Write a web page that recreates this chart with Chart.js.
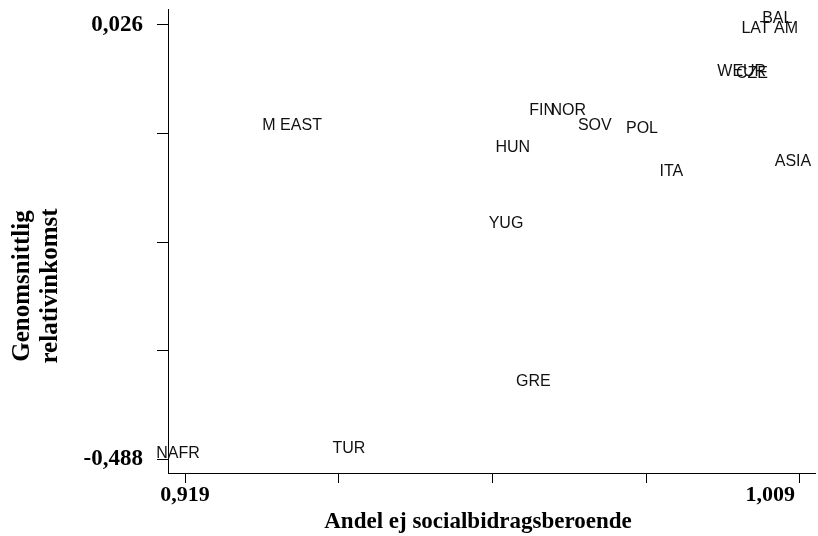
<!DOCTYPE html>
<html>
<head>
<meta charset="utf-8">
<script src="https://cdn.jsdelivr.net/npm/chart.js@4/dist/chart.umd.min.js"></script>
<style>
  html, body { margin: 0; padding: 0; background: #fff; }
  #wrap { width: 818px; height: 536px; }
</style>
</head>
<body>
<div id="wrap"><canvas id="scatterChart" width="818" height="536"></canvas></div>
<script>
/* ---- Data ---- */
const LABELS = ['BAL', 'LAT AM', 'WEUR', 'CZE', 'FIN', 'NOR', 'SOV', 'POL', 'HUN', 'ITA', 'ASIA', 'M EAST', 'YUG', 'GRE', 'TUR', 'NAFR'];
const X_VALUES = [1.0067, 1.0056, 1.0015, 1.0030, 0.9723, 0.9761, 0.9800, 0.9869, 0.9680, 0.9912, 1.0090, 0.9357, 0.9670, 0.9710, 0.9440, 0.9190];
const Y_VALUES = [0.0260, 0.0142, -0.0367, -0.0391, -0.0828, -0.0828, -0.1000, -0.1041, -0.1266, -0.1550, -0.1432, -0.1006, -0.2159, -0.4028, -0.4821, -0.4880];

const X_TICKS = [0.919, 0.9415, 0.964, 0.9865, 1.009];
const X_TICK_LABELS = ['0,919', '', '', '', '1,009'];
const Y_TICKS = [-0.488, -0.3595, -0.231, -0.1025, 0.026];
const Y_TICK_LABELS = ['-0,488', '', '', '', '0,026'];

const X_TITLE = 'Andel ej socialbidragsberoende';
const Y_TITLE = ['Genomsnittlig', 'relativinkomst'];

const SERIF = '"Liberation Serif", "Times New Roman", serif';
const SANS = '"Liberation Sans", Arial, sans-serif';

/* ---- Plugins: point labels, x tick labels, axis titles ---- */
const pointLabels = {
  id: 'pointLabels',
  afterDatasetsDraw(chart) {
    const ctx = chart.ctx;
    const meta = chart.getDatasetMeta(0);
    ctx.save();
    ctx.font = '16px ' + SANS;
    ctx.fillStyle = '#111';
    ctx.textAlign = 'center';
    ctx.textBaseline = 'middle';
    meta.data.forEach((pt, i) => {
      ctx.fillText(LABELS[i], pt.x - 7, pt.y - 6);
    });
    ctx.restore();
  },
};

const axisText = {
  id: 'axisText',
  afterDraw(chart) {
    const ctx = chart.ctx;
    const xScale = chart.scales.x;
    ctx.save();
    ctx.fillStyle = '#000';
    ctx.font = 'bold 22px ' + SERIF;
    ctx.textBaseline = 'middle';
    ctx.textAlign = 'center';

    // x tick labels, kept inside the canvas
    X_TICKS.forEach((v, i) => {
      const text = X_TICK_LABELS[i];
      if (!text) return;
      const w = ctx.measureText(text).width;
      const cx = Math.min(xScale.getPixelForValue(v), chart.width - 23 - w / 2);
      ctx.fillText(text, cx, 495);
    });

    // x title
    ctx.font = 'bold 23px ' + SERIF;
    ctx.fillText(X_TITLE, 478, 522);

    // y title, two lines rotated
    ctx.font = 'bold 25px ' + SERIF;
    ctx.textBaseline = 'alphabetic';
    [29, 57].forEach((bx, i) => {
      ctx.save();
      ctx.translate(bx, 286);
      ctx.rotate(-Math.PI / 2);
      ctx.fillText(Y_TITLE[i], 0, 0);
      ctx.restore();
    });
    ctx.restore();
  },
};

/* ---- Chart ---- */
const ctx = document.getElementById('scatterChart').getContext('2d');

new Chart(ctx, {
  type: 'scatter',
  data: {
    datasets: [
      {
        label: 'Regioner',
        data: X_VALUES.map((x, i) => ({ x, y: Y_VALUES[i] })),
        pointRadius: 0,
        pointHoverRadius: 0,
      },
    ],
  },
  options: {
    responsive: false,
    animation: false,
    devicePixelRatio: 1,
    layout: { padding: { top: 9, right: 3, left: 0, bottom: 0 } },
    plugins: {
      legend: { display: false },
      tooltip: { enabled: false },
    },
    scales: {
      x: {
        type: 'linear',
        min: 0.91651,
        max: 1.0112,
        afterBuildTicks: (scale) => { scale.ticks = X_TICKS.map((v) => ({ value: v })); },
        afterFit: (scale) => {
          scale.height = 63;
          scale.paddingLeft = 0;
          scale.paddingRight = 0;
        },
        border: { display: true, color: '#000', width: 1 },
        grid: { drawOnChartArea: false, drawTicks: true, tickLength: 10, color: '#000', lineWidth: 1 },
        ticks: { display: false },
      },
      y: {
        type: 'linear',
        min: -0.504,
        max: 0.0449,
        afterBuildTicks: (scale) => { scale.ticks = Y_TICKS.map((v) => ({ value: v })); },
        afterFit: (scale) => {
          scale.width = 168;
          scale.paddingTop = 0;
          scale.paddingBottom = 0;
        },
        border: { display: true, color: '#000', width: 1 },
        grid: { drawOnChartArea: false, drawTicks: true, tickLength: 11, color: '#000', lineWidth: 1 },
        ticks: {
          color: '#000',
          padding: 14,
          font: { family: SERIF, size: 23, weight: 'bold' },
          callback: (v, i) => Y_TICK_LABELS[i],
        },
      },
    },
  },
  plugins: [pointLabels, axisText],
});
</script>
</body>
</html>
